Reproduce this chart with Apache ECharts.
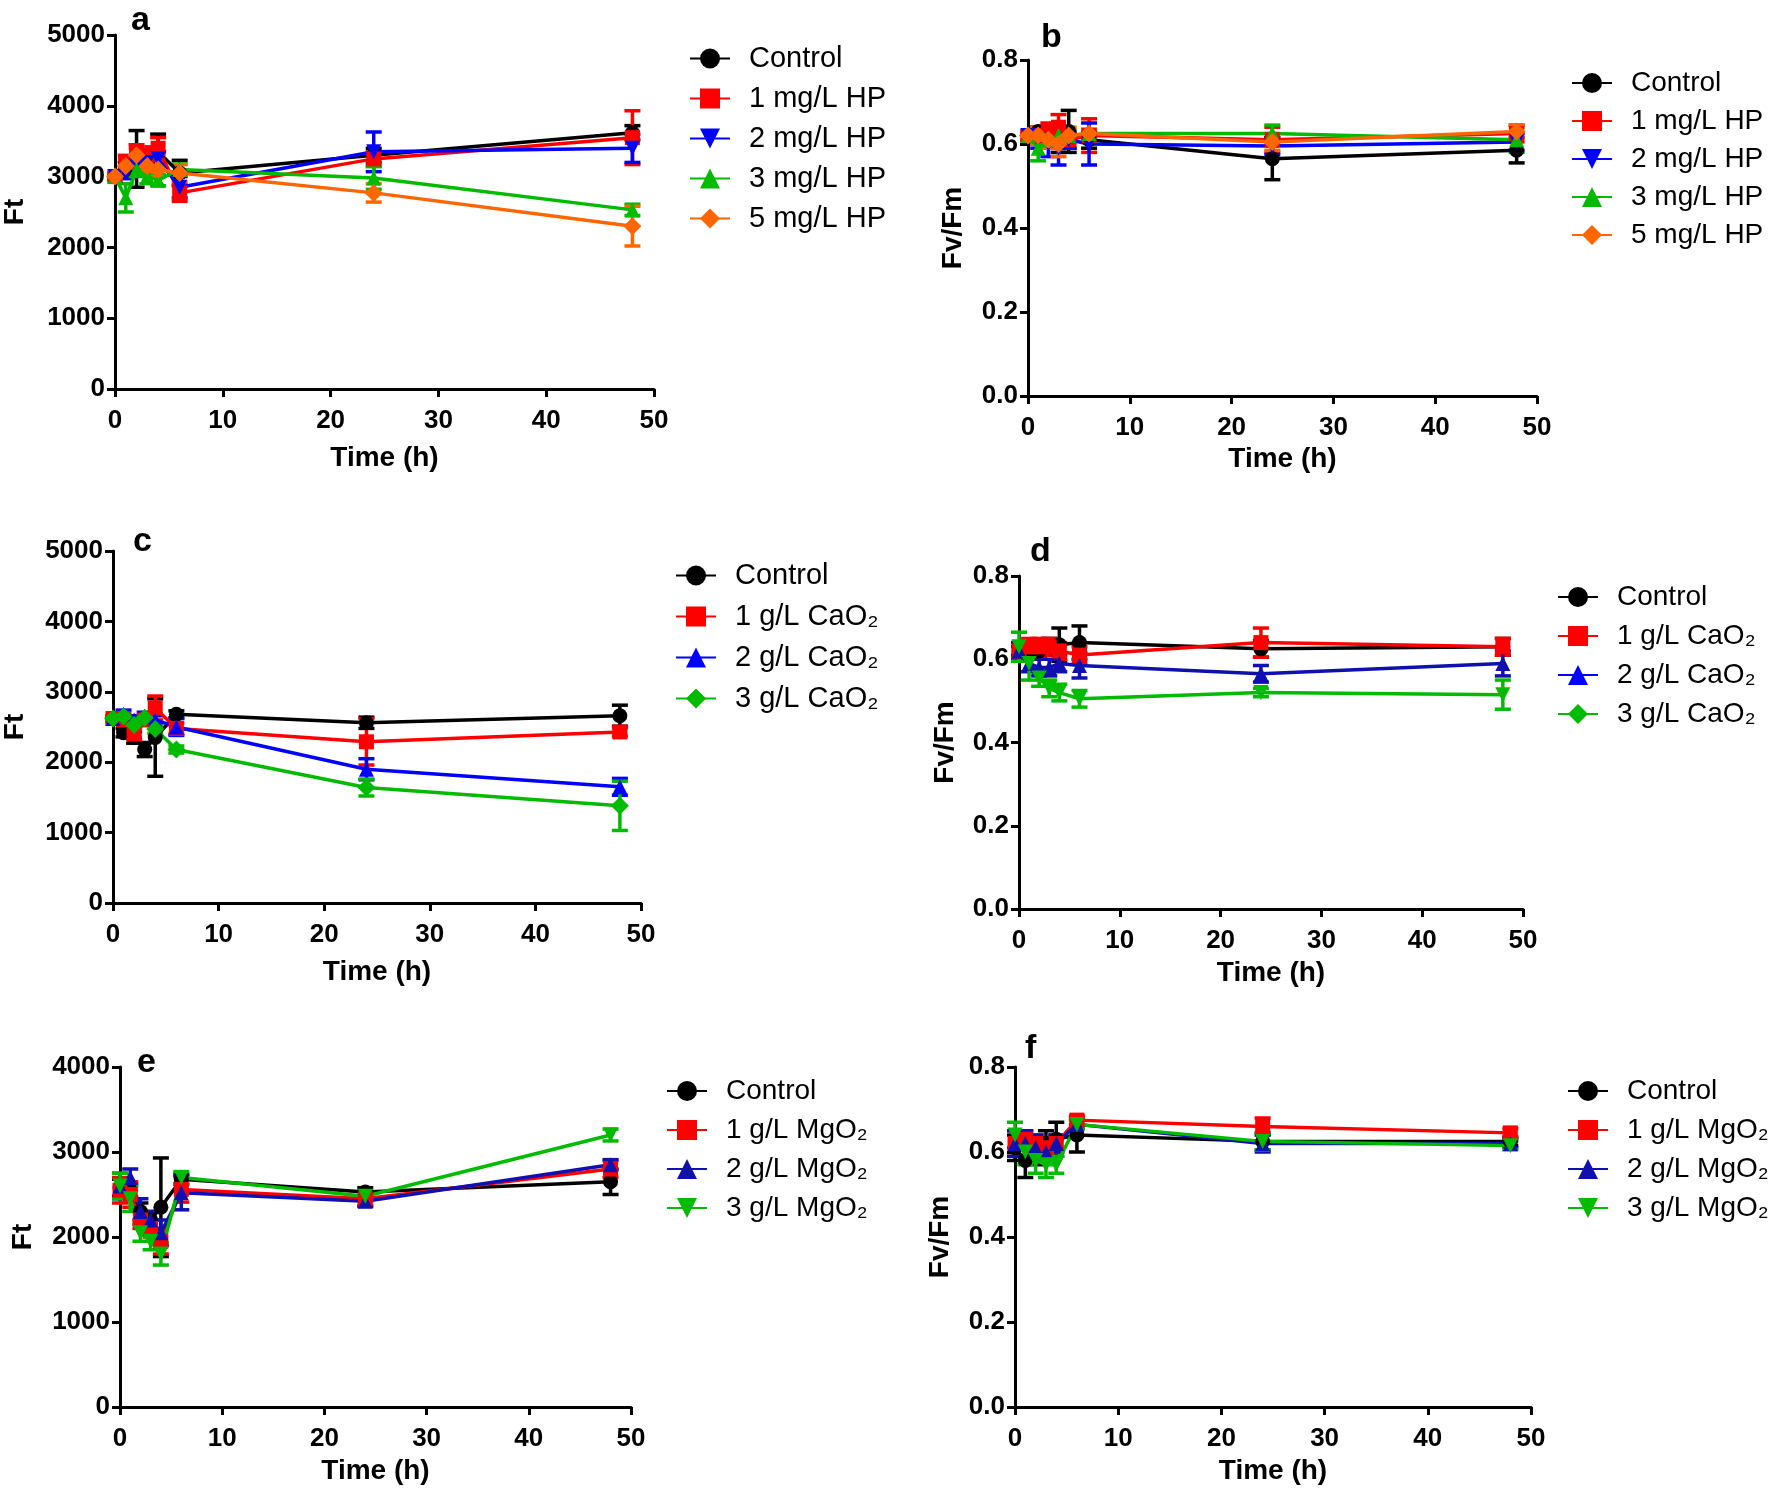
<!DOCTYPE html>
<html><head><meta charset="utf-8">
<script src="https://cdn.jsdelivr.net/npm/echarts@6/dist/echarts.min.js"></script>
<style>html,body{margin:0;padding:0;background:#fff}#c{width:1773px;height:1491px}</style>
</head><body><div id="c"></div>
<script>
// ---------- DATA ----------
const timeH = [0, 1, 2, 3, 4, 6, 24, 48];

// Panel a: Ft, HP
const aCtrl = [3000, 3100, 3250, 3200, 3350, 3050, 3300, 3620];
const aCtrlErr = [50, 100, 400, 150, 250, 180, 100, 100];
const aHp1 = [3000, 3200, 3350, 3300, 3400, 2770, 3250, 3550];
const aHp1Err = [50, 100, 100, 120, 150, 120, 100, 380];
const aHp2 = [3000, 3050, 3150, 3200, 3250, 2850, 3350, 3400];
const aHp2Err = [50, 80, 100, 100, 100, 150, 280, 200];
const aHp3 = [3000, 2700, 3100, 3000, 2950, 3100, 2980, 2530];
const aHp3Err = [50, 200, 100, 100, 80, 80, 160, 80];
const aHp5 = [3000, 3150, 3300, 3150, 3100, 3050, 2770, 2300];
const aHp5Err = [50, 100, 100, 80, 100, 120, 130, 280];

// Panel b: Fv/Fm, HP
const bCtrl = [0.62, 0.63, 0.62, 0.61, 0.63, 0.61, 0.565, 0.585];
const bCtrlErr = [0.01, 0.01, 0.02, 0.03, 0.05, 0.02, 0.05, 0.03];
const bHp1 = [0.62, 0.62, 0.63, 0.64, 0.61, 0.62, 0.61, 0.625];
const bHp1Err = [0.01, 0.02, 0.02, 0.03, 0.02, 0.04, 0.03, 0.02];
const bHp2 = [0.62, 0.61, 0.60, 0.59, 0.61, 0.60, 0.595, 0.605];
const bHp2Err = [0.01, 0.02, 0.03, 0.04, 0.02, 0.05, 0.02, 0.02];
const bHp3 = [0.62, 0.59, 0.61, 0.62, 0.62, 0.625, 0.625, 0.61];
const bHp3Err = [0.01, 0.03, 0.02, 0.02, 0.01, 0.01, 0.02, 0.03];
const bHp5 = [0.62, 0.62, 0.61, 0.60, 0.62, 0.625, 0.605, 0.63];
const bHp5Err = [0.01, 0.02, 0.02, 0.03, 0.02, 0.01, 0.02, 0.015];

// Panel c: Ft, CaO2
const cCtrl = [2620, 2420, 2350, 2180, 2350, 2680, 2560, 2660];
const cCtrlErr = [40, 60, 80, 100, 550, 50, 80, 150];
const cCao1 = [2620, 2600, 2400, 2600, 2770, 2480, 2290, 2430];
const cCao1Err = [40, 60, 80, 60, 170, 80, 330, 60];
const cCao2 = [2620, 2680, 2600, 2650, 2600, 2500, 1900, 1650];
const cCao2Err = [40, 60, 60, 60, 60, 120, 150, 120];
const cCao3 = [2620, 2650, 2530, 2630, 2470, 2180, 1640, 1380];
const cCao3Err = [40, 40, 60, 40, 60, 50, 120, 350];

// Panel d: Fv/Fm, CaO2
const dCtrl = [0.62, 0.61, 0.62, 0.63, 0.635, 0.64, 0.625, 0.63];
const dCtrlErr = [0.01, 0.01, 0.02, 0.02, 0.04, 0.04, 0.02, 0.02];
const dCao1 = [0.62, 0.63, 0.63, 0.63, 0.62, 0.61, 0.64, 0.63];
const dCao1Err = [0.02, 0.02, 0.02, 0.02, 0.02, 0.02, 0.035, 0.02];
const dCao2 = [0.62, 0.59, 0.58, 0.58, 0.59, 0.585, 0.565, 0.59];
const dCao2Err = [0.02, 0.02, 0.02, 0.02, 0.02, 0.03, 0.02, 0.03];
const dCao3 = [0.63, 0.59, 0.555, 0.53, 0.52, 0.505, 0.52, 0.515];
const dCao3Err = [0.035, 0.04, 0.02, 0.02, 0.02, 0.02, 0.01, 0.035];

// Panel e: Ft, MgO2
const eCtrl = [2580, 2550, 2300, 2200, 2350, 2680, 2530, 2650];
const eCtrlErr = [100, 80, 100, 100, 580, 60, 50, 150];
const eMgo1 = [2550, 2500, 2200, 2100, 1950, 2560, 2450, 2800];
const eMgo1Err = [150, 150, 100, 100, 150, 150, 80, 100];
const eMgo2 = [2600, 2700, 2300, 2200, 2050, 2520, 2420, 2850];
const eMgo2Err = [150, 100, 150, 100, 150, 200, 60, 60];
const eMgo3 = [2600, 2450, 2050, 1950, 1800, 2700, 2480, 3200];
const eMgo3Err = [150, 150, 100, 100, 130, 70, 60, 70];

// Panel f: Fv/Fm, MgO2
const fCtrl = [0.61, 0.58, 0.60, 0.62, 0.63, 0.64, 0.625, 0.625];
const fCtrlErr = [0.03, 0.04, 0.03, 0.03, 0.04, 0.04, 0.02, 0.01];
const fMgo1 = [0.62, 0.63, 0.62, 0.61, 0.62, 0.675, 0.66, 0.645];
const fMgo1Err = [0.03, 0.02, 0.02, 0.02, 0.02, 0.01, 0.02, 0.01];
const fMgo2 = [0.62, 0.62, 0.61, 0.60, 0.62, 0.665, 0.62, 0.62];
const fMgo2Err = [0.03, 0.03, 0.03, 0.02, 0.02, 0.01, 0.02, 0.01];
const fMgo3 = [0.64, 0.60, 0.58, 0.57, 0.57, 0.665, 0.625, 0.615];
const fMgo3Err = [0.03, 0.03, 0.03, 0.03, 0.02, 0.01, 0.02, 0.01];

// Names
const hpNames = ['Control', '1 mg/L HP', '2 mg/L HP', '3 mg/L HP', '5 mg/L HP'];
const caoNames = ['Control', '1 g/L CaO\u2082', '2 g/L CaO\u2082', '3 g/L CaO\u2082'];
const mgoNames = ['Control', '1 g/L MgO\u2082', '2 g/L MgO\u2082', '3 g/L MgO\u2082'];
const panelLetters = ['a', 'b', 'c', 'd', 'e', 'f'];

// ---------- STYLE / LAYOUT ----------
const FONT = '"Liberation Sans", Arial, Helvetica, sans-serif';
const BLACK = '#000000', RED = '#FF0000', BLUE = '#0000FF', DBLUE = '#1010B0', GREEN = '#00BB00', ORANGE = '#FF6600';

const SYM = {
  circle: {symbol: 'circle', rot: 0},
  square: {symbol: 'rect', rot: 0},
  up: {symbol: 'triangle', rot: 0},
  down: {symbol: 'triangle', rot: 180},
  diamond: {symbol: 'diamond', rot: 0}
};

const panels = [
  {grid: {left: 114, top: 35, width: 540, height: 354}, yMax: 5000, yInt: 1000, dec: 0, yName: 'Ft', yGap: 86, xGap: 55,
   label: [131, 21], legend: {left: 684, top: 39, gap: 11, fs: 29},
   series: [[hpNames[0], aCtrl, aCtrlErr, BLACK, 'circle'], [hpNames[1], aHp1, aHp1Err, RED, 'square'],
            [hpNames[2], aHp2, aHp2Err, BLUE, 'down'], [hpNames[3], aHp3, aHp3Err, GREEN, 'up'],
            [hpNames[4], aHp5, aHp5Err, ORANGE, 'diamond']]},
  {grid: {left: 1028, top: 60, width: 509, height: 336}, yMax: 0.8, yInt: 0.2, dec: 1, yName: 'Fv/Fm', yGap: 61, xGap: 49,
   label: [1041, 38], legend: {left: 1566, top: 64, gap: 10, fs: 28},
   series: [[hpNames[0], bCtrl, bCtrlErr, BLACK, 'circle'], [hpNames[1], bHp1, bHp1Err, RED, 'square'],
            [hpNames[2], bHp2, bHp2Err, BLUE, 'down'], [hpNames[3], bHp3, bHp3Err, GREEN, 'up'],
            [hpNames[4], bHp5, bHp5Err, ORANGE, 'diamond']]},
  {grid: {left: 112, top: 551, width: 529, height: 352}, yMax: 5000, yInt: 1000, dec: 0, yName: 'Ft', yGap: 84, xGap: 55,
   label: [133, 542], legend: {left: 670, top: 556, gap: 12, fs: 29},
   series: [[caoNames[0], cCtrl, cCtrlErr, BLACK, 'circle'], [caoNames[1], cCao1, cCao1Err, RED, 'square'],
            [caoNames[2], cCao2, cCao2Err, BLUE, 'up'], [caoNames[3], cCao3, cCao3Err, GREEN, 'diamond']]},
  {grid: {left: 1019, top: 576, width: 504, height: 333}, yMax: 0.8, yInt: 0.2, dec: 1, yName: 'Fv/Fm', yGap: 60, xGap: 50,
   label: [1030, 552], legend: {left: 1552, top: 578, gap: 11, fs: 28},
   series: [[caoNames[0], dCtrl, dCtrlErr, BLACK, 'circle'], [caoNames[1], dCao1, dCao1Err, RED, 'square'],
            [caoNames[2], dCao2, dCao2Err, DBLUE, 'up'], [caoNames[3], dCao3, dCao3Err, GREEN, 'down']]},
  {grid: {left: 120, top: 1067, width: 511, height: 340}, yMax: 4000, yInt: 1000, dec: 0, yName: 'Ft', yGap: 83, xGap: 50,
   label: [137, 1063], legend: {left: 661, top: 1072, gap: 11, fs: 28},
   series: [[mgoNames[0], eCtrl, eCtrlErr, BLACK, 'circle'], [mgoNames[1], eMgo1, eMgo1Err, RED, 'square'],
            [mgoNames[2], eMgo2, eMgo2Err, DBLUE, 'up'], [mgoNames[3], eMgo3, eMgo3Err, GREEN, 'down']]},
  {grid: {left: 1015, top: 1067, width: 516, height: 340}, yMax: 0.8, yInt: 0.2, dec: 1, yName: 'Fv/Fm', yGap: 61, xGap: 50,
   label: [1025, 1049], legend: {left: 1562, top: 1072, gap: 11, fs: 28},
   series: [[mgoNames[0], fCtrl, fCtrlErr, BLACK, 'circle'], [mgoNames[1], fMgo1, fMgo1Err, RED, 'square'],
            [mgoNames[2], fMgo2, fMgo2Err, DBLUE, 'up'], [mgoNames[3], fMgo3, fMgo3Err, GREEN, 'down']]}
];

function errRenderer(color) {
  return function (params, api) {
    const x = api.value(0), lo = api.value(1), hi = api.value(2);
    const pLo = api.coord([x, lo]), pHi = api.coord([x, hi]);
    const w = 8;
    const st = {stroke: color, lineWidth: 3.5};
    return {type: 'group', children: [
      {type: 'line', shape: {x1: pLo[0], y1: pLo[1], x2: pHi[0], y2: pHi[1]}, style: st},
      {type: 'line', shape: {x1: pLo[0] - w, y1: pLo[1], x2: pLo[0] + w, y2: pLo[1]}, style: st},
      {type: 'line', shape: {x1: pHi[0] - w, y1: pHi[1], x2: pHi[0] + w, y2: pHi[1]}, style: st}
    ]};
  };
}

const grids = [], xAxes = [], yAxes = [], series = [], legends = [], graphics = [];
panels.forEach((p, i) => {
  grids.push(Object.assign({containLabel: false}, p.grid));
  xAxes.push({
    type: 'value', gridIndex: i, min: 0, max: 50, interval: 10,
    name: 'Time (h)', nameLocation: 'middle', nameGap: p.xGap,
    nameTextStyle: {fontFamily: FONT, fontWeight: 'bold', fontSize: 28, color: '#000'},
    axisLine: {show: true, onZero: false, lineStyle: {color: '#000', width: 3}},
    axisTick: {show: true, length: 8, lineStyle: {color: '#000', width: 3}},
    axisLabel: {fontFamily: FONT, fontWeight: 'bold', fontSize: 26, color: '#000', margin: 19},
    splitLine: {show: false}
  });
  yAxes.push({
    type: 'value', gridIndex: i, min: 0, max: p.yMax, interval: p.yInt,
    name: p.yName, nameLocation: 'middle', nameGap: p.yGap,
    nameTextStyle: {fontFamily: FONT, fontWeight: 'bold', fontSize: 28, color: '#000'},
    axisLine: {show: true, onZero: false, lineStyle: {color: '#000', width: 3}},
    axisTick: {show: true, length: 8, lineStyle: {color: '#000', width: 3}},
    axisLabel: {fontFamily: FONT, fontWeight: 'bold', fontSize: 26, color: '#000', margin: 10,
      formatter: v => v.toFixed(p.dec)},
    splitLine: {show: false}
  });
  p.series.forEach(([name, vals, errs, color, shape]) => {
    series.push({
      type: 'custom', xAxisIndex: i, yAxisIndex: i, silent: true,
      renderItem: errRenderer(color),
      data: timeH.map((t, k) => [t, vals[k] - errs[k], vals[k] + errs[k]])
    });
    series.push({
      type: 'line', name: name, xAxisIndex: i, yAxisIndex: i,
      symbol: SYM[shape].symbol, symbolRotate: SYM[shape].rot, symbolSize: shape === 'diamond' ? 18 : 15,
      lineStyle: {color: color, width: 3.5}, itemStyle: {color: color},
      data: timeH.map((t, k) => [t, vals[k]]), animation: false
    });
  });
  legends.push({
    orient: 'vertical', left: p.legend.left, top: p.legend.top, itemGap: p.legend.gap,
    itemWidth: 40, itemHeight: 25, selectedMode: false,
    data: p.series.map(s => s[0]),
    textStyle: {fontFamily: FONT, fontSize: p.legend.fs, color: '#000', padding: [0, 0, 0, 14]}
  });
  graphics.push({type: 'text', x: p.label[0], y: p.label[1],
    style: {text: panelLetters[i], font: 'bold 34px ' + FONT, fill: '#000', textAlign: 'left', textVerticalAlign: 'middle'}});
});

const chart = echarts.init(document.getElementById('c'));
chart.setOption({
  backgroundColor: '#fff', animation: false,
  grid: grids, xAxis: xAxes, yAxis: yAxes, series: series, legend: legends, graphic: graphics
});
</script></body></html>
